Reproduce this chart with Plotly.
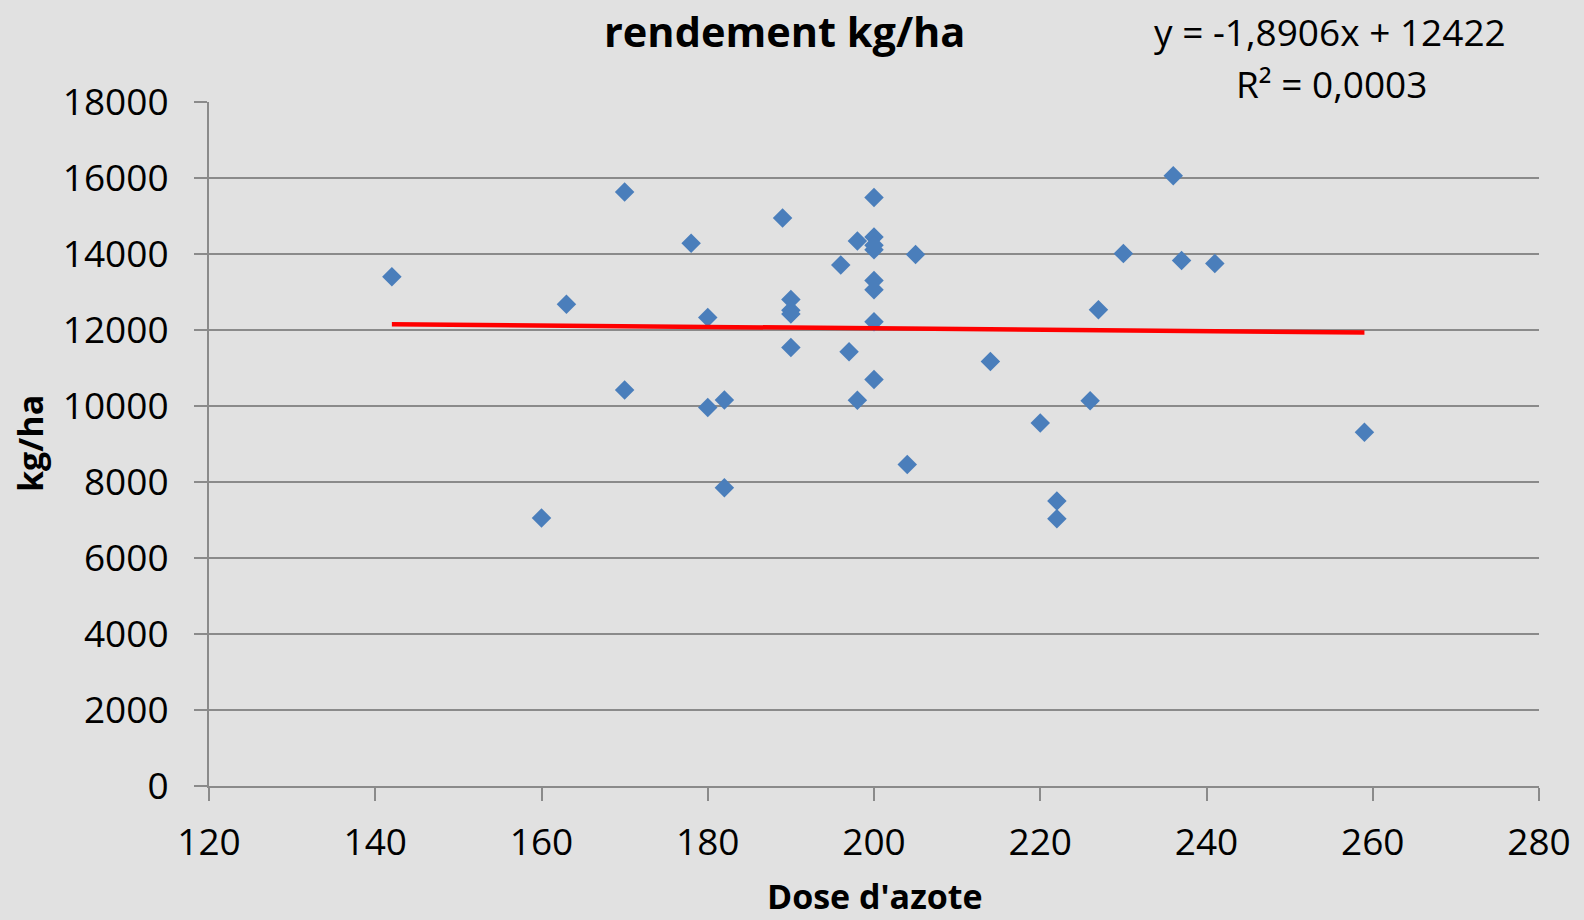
import plotly.graph_objects as go

# Data
dose_azote = [142, 160, 163, 170, 170, 178, 180, 180, 182, 182,
              189, 190, 190, 190, 190, 196, 197, 198, 198,
              200, 200, 200, 200, 200, 200, 200, 200,
              204, 205, 214, 220, 222, 222, 226, 227, 230, 236, 237, 241, 259]
rendement = [13400, 7050, 12680, 15630, 10420, 14280, 12330, 9960, 10160, 7850,
             14950, 12800, 12520, 12420, 11540, 13710, 11430, 14340, 10150,
             15490, 14450, 14230, 14110, 13300, 13060, 12220, 10700,
             8460, 13990, 11170, 9550, 7500, 7030, 10140, 12530, 14010, 16060, 13830, 13750, 9310]

# Trendline shown in the chart
slope = -1.8906
intercept = 12422
trend_x = [min(dose_azote), max(dose_azote)]
trend_y = [slope * v + intercept for v in trend_x]

x_ticks = [120, 140, 160, 180, 200, 220, 240, 260, 280]
y_ticks = [0, 2000, 4000, 6000, 8000, 10000, 12000, 14000, 16000, 18000]

FONT = "Open Sans"
GRID = "#8a8a8a"

fig = go.Figure()
fig.add_trace(go.Scatter(
    x=dose_azote, y=rendement, mode="markers",
    marker=dict(symbol="diamond", size=15, color="#4a7ebb"),
    showlegend=False, hoverinfo="x+y"))
fig.add_trace(go.Scatter(
    x=trend_x, y=trend_y, mode="lines",
    line=dict(color="#ff0000", width=4.5),
    showlegend=False, hoverinfo="skip"))

fig.update_layout(
    width=1584, height=920,
    margin=dict(l=209, r=45, t=102, b=134),
    paper_bgcolor="#e1e1e1",
    plot_bgcolor="rgba(0,0,0,0)",
    font=dict(family=FONT, color="black"),
    xaxis=dict(
        range=[120, 280], tickvals=x_ticks, tickformat="d",
        showgrid=False, zeroline=False,
        showline=True, linecolor=GRID, linewidth=2,
        ticks="outside", ticklen=13, tickcolor=GRID, tickwidth=1.5,
        tickfont=dict(size=37, family=FONT), ticklabelstandoff=10,
    ),
    yaxis=dict(
        range=[0, 18000], tickvals=y_ticks, tickformat="d",
        showgrid=True, gridcolor=GRID, gridwidth=2,
        zeroline=False,
        showline=True, linecolor=GRID, linewidth=2,
        ticks="outside", ticklen=13, tickcolor=GRID, tickwidth=2,
        tickfont=dict(size=37, family=FONT), ticklabelstandoff=18,
    ),
    annotations=[
        dict(text="<b>rendement kg/ha</b>", xref="paper", yref="paper",
             x=(784 - 209) / 1330, y=(786 - 31) / 684,
             xanchor="center", yanchor="middle", showarrow=False,
             font=dict(size=41.5, family=FONT)),
        dict(text="y = -1,8906x + 12422", xref="paper", yref="paper",
             x=(1330 - 209) / 1330, y=(786 - 32) / 684,
             xanchor="center", yanchor="middle", showarrow=False,
             font=dict(size=37, family=FONT)),
        dict(text="R² = 0,0003", xref="paper", yref="paper",
             x=(1331 - 209) / 1330, y=(786 - 83) / 684,
             xanchor="center", yanchor="middle", showarrow=False,
             font=dict(size=37, family=FONT)),
        dict(text="<b>Dose d'azote</b>", xref="paper", yref="paper",
             x=(875 - 209) / 1330, y=(786 - 896) / 684,
             xanchor="center", yanchor="middle", showarrow=False,
             font=dict(size=34, family=FONT)),
        dict(text="<b>kg/ha</b>", xref="paper", yref="paper",
             x=(30 - 209) / 1330, y=(786 - 444) / 684,
             xanchor="center", yanchor="middle", showarrow=False,
             textangle=-90,
             font=dict(size=34, family=FONT)),
    ],
)

fig.write_html("out.html")
